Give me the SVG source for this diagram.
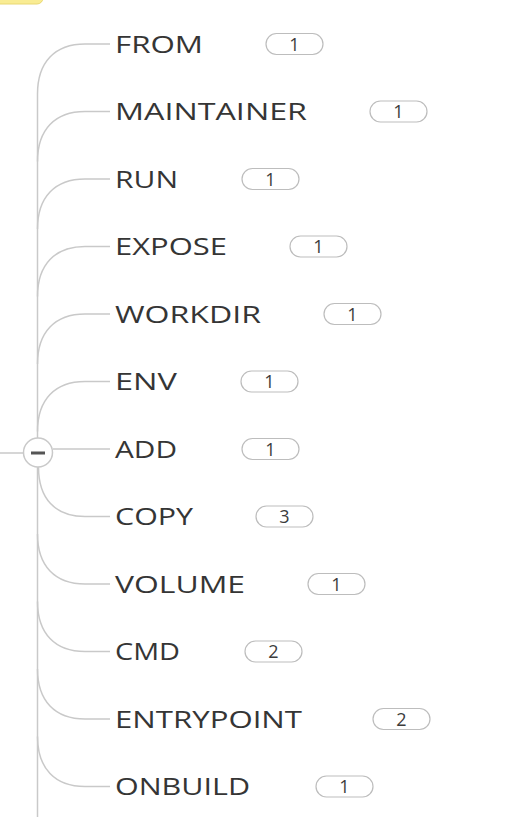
<svg xmlns="http://www.w3.org/2000/svg" width="519" height="817" viewBox="0 0 519 817">
<style>
.ln{fill:none;stroke:#c9c9c9;stroke-width:1.5}
.lbl{font-family:"Open Sans","Noto Sans",sans-serif;font-size:24.5px;fill:#353535}
.bd{fill:#fff;stroke:#bdbdbd;stroke-width:1.2}
.num{font-family:"Open Sans","Noto Sans",sans-serif;font-size:18px;fill:#3c3c3c;text-anchor:middle}
</style>
<rect width="519" height="817" fill="#fff"/>
<g id="root-node"><rect x="-10" y="-20" width="53" height="24" rx="6" fill="#f9ec93" stroke="#e9d873" stroke-width="1"/></g>
<g id="connectors">
<line class="ln" x1="0" y1="453" x2="23" y2="453"/>
<line class="ln" x1="37.5" y1="94" x2="37.5" y2="438"/>
<line class="ln" x1="37.5" y1="467" x2="37.5" y2="817"/>
<path class="ln" d="M37.5,94 C37.5,62 55,44 85,44 L110,44"/>
<path class="ln" d="M37.5,161.5 C37.5,129.5 55,111.5 85,111.5 L110,111.5"/>
<path class="ln" d="M37.5,229 C37.5,197 55,179 85,179 L110,179"/>
<path class="ln" d="M37.5,296.5 C37.5,264.5 55,246.5 85,246.5 L110,246.5"/>
<path class="ln" d="M37.5,364 C37.5,332 55,314 85,314 L110,314"/>
<path class="ln" d="M37.5,431.5 C37.5,399.5 55,381.5 85,381.5 L110,381.5"/>
<line class="ln" x1="53" y1="449" x2="110" y2="449"/>
<path class="ln" d="M38.5,467 C38.5,498.5 55,516.5 85,516.5 L110,516.5"/>
<path class="ln" d="M37.5,534 C37.5,566 55,584 85,584 L110,584"/>
<path class="ln" d="M37.5,601.5 C37.5,633.5 55,651.5 85,651.5 L110,651.5"/>
<path class="ln" d="M37.5,669 C37.5,701 55,719 85,719 L110,719"/>
<path class="ln" d="M37.5,736.5 C37.5,768.5 55,786.5 85,786.5 L110,786.5"/>
</g>
<g id="collapse">
<circle cx="38" cy="452.5" r="14.5" fill="#fff" stroke="#c9c9c9" stroke-width="1.5"/>
<rect x="31" y="451.5" width="14" height="3" fill="#555"/>
</g>
<g id="n-from"><text class="lbl" x="115" y="52.5" textLength="88" lengthAdjust="spacingAndGlyphs">FROM</text><rect class="bd" x="266" y="33.5" width="57" height="21" rx="10.5"/><text class="num" x="294.5" y="50.5">1</text></g>
<g id="n-maintainer"><text class="lbl" x="115" y="120" textLength="192" lengthAdjust="spacingAndGlyphs">MAINTAINER</text><rect class="bd" x="370" y="101" width="57" height="21" rx="10.5"/><text class="num" x="398.5" y="118">1</text></g>
<g id="n-run"><text class="lbl" x="115" y="187.5" textLength="63" lengthAdjust="spacingAndGlyphs">RUN</text><rect class="bd" x="242" y="168.5" width="57" height="21" rx="10.5"/><text class="num" x="270.5" y="185.5">1</text></g>
<g id="n-expose"><text class="lbl" x="115" y="255" textLength="112" lengthAdjust="spacingAndGlyphs">EXPOSE</text><rect class="bd" x="290" y="236" width="57" height="21" rx="10.5"/><text class="num" x="318.5" y="253">1</text></g>
<g id="n-workdir"><text class="lbl" x="115" y="322.5" textLength="146" lengthAdjust="spacingAndGlyphs">WORKDIR</text><rect class="bd" x="324" y="303.5" width="57" height="21" rx="10.5"/><text class="num" x="352.5" y="320.5">1</text></g>
<g id="n-env"><text class="lbl" x="115" y="390" textLength="62" lengthAdjust="spacingAndGlyphs">ENV</text><rect class="bd" x="241" y="371" width="57" height="21" rx="10.5"/><text class="num" x="269.5" y="388">1</text></g>
<g id="n-add"><text class="lbl" x="115" y="457.5" textLength="62" lengthAdjust="spacingAndGlyphs">ADD</text><rect class="bd" x="242" y="438.5" width="57" height="21" rx="10.5"/><text class="num" x="270.5" y="455.5">1</text></g>
<g id="n-copy"><text class="lbl" x="115" y="525" textLength="78" lengthAdjust="spacingAndGlyphs">COPY</text><rect class="bd" x="256" y="506" width="57" height="21" rx="10.5"/><text class="num" x="284.5" y="523">3</text></g>
<g id="n-volume"><text class="lbl" x="115" y="592.5" textLength="130" lengthAdjust="spacingAndGlyphs">VOLUME</text><rect class="bd" x="308" y="573.5" width="57" height="21" rx="10.5"/><text class="num" x="336.5" y="590.5">1</text></g>
<g id="n-cmd"><text class="lbl" x="115" y="660" textLength="65" lengthAdjust="spacingAndGlyphs">CMD</text><rect class="bd" x="245" y="641" width="57" height="21" rx="10.5"/><text class="num" x="273.5" y="658">2</text></g>
<g id="n-entrypoint"><text class="lbl" x="115" y="727.5" textLength="187" lengthAdjust="spacingAndGlyphs">ENTRYPOINT</text><rect class="bd" x="373" y="708.5" width="57" height="21" rx="10.5"/><text class="num" x="401.5" y="725.5">2</text></g>
<g id="n-onbuild"><text class="lbl" x="115" y="795" textLength="135" lengthAdjust="spacingAndGlyphs">ONBUILD</text><rect class="bd" x="316" y="776" width="57" height="21" rx="10.5"/><text class="num" x="344.5" y="793">1</text></g>
</svg>
